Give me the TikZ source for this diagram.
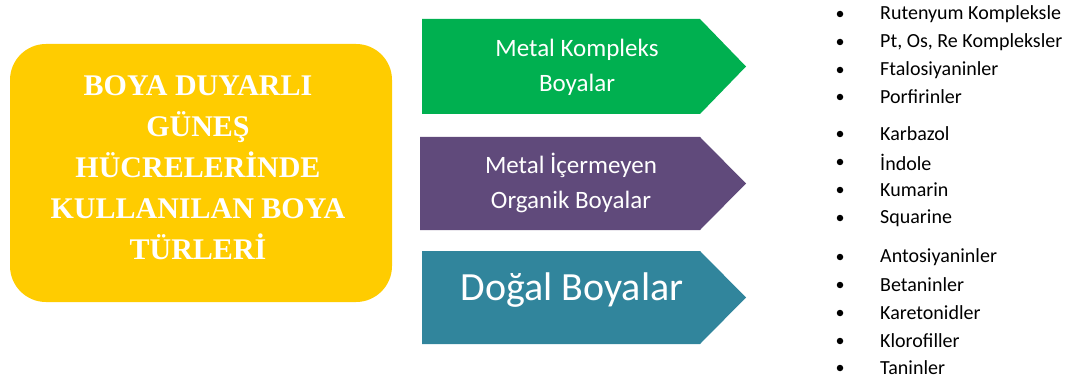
\documentclass[tikz,border=0pt]{standalone}
\usepackage{fontspec}
\setmainfont{Carlito}
\newfontfamily\titlefont{Liberation Serif}
\definecolor{boxyellow}{HTML}{FFCC00}
\definecolor{metalgreen}{HTML}{00B050}
\definecolor{organicpurple}{HTML}{604A7B}
\definecolor{naturalteal}{HTML}{31859C}
\begin{document}
\begin{tikzpicture}[x=1pt,y=-1pt,
    titlebox/.style={fill=boxyellow, rounded corners=36pt, minimum width=382pt, minimum height=258pt, inner sep=0pt},
    titletext/.style={text=white, align=center, inner sep=0pt, font=\titlefont\bfseries\fontsize{30}{41}\selectfont},
    arrowtext/.style={text=white, align=center, inner sep=0pt, font=\fontsize{25}{35}\selectfont},
    dot/.style={circle, fill=black, inner sep=0pt, minimum size=6.5pt},
    item/.style={anchor=west, inner sep=0pt, font=\fontsize{20}{22}\selectfont}]

  \useasboundingbox (0,0) rectangle (1075,382);

  % main box
  \node[titlebox] (title) at (201,173) {};
  \node[titletext] (titlelabel) at ([shift={(-3,-5)}]title.center)
    {BOYA DUYARLI\\GÜNEŞ\\HÜCRELERİNDE\\KULLANILAN BOYA\\TÜRLERİ};

  % arrows
  \fill[metalgreen] (422,19) -- (700,19) -- (746,66.5) -- (700,114) -- (422,114) -- cycle;
  \fill[organicpurple] (420,137) -- (700,137) -- (746,183.5) -- (700,230) -- (420,230) -- cycle;
  \fill[naturalteal] (422,251) -- (700,251) -- (746,297.5) -- (700,344) -- (422,344) -- cycle;

  \node[arrowtext] (metal) at (577,67) {Metal Kompleks\\Boyalar};
  \node[arrowtext] (organic) at (571,183) {Metal İçermeyen\\Organik Boyalar};
  \node[arrowtext, font=\fontsize{40}{44}\selectfont] (natural) at (572,290) {Doğal Boyalar};

  % lists
  \foreach \name/\y/\txt in {rut/14/Rutenyum Kompleksle, pt/42/{Pt, Os, Re Kompleksler},
      fta/70/Ftalosiyaninler, por/97/Porfirinler,
      kar/134/Karbazol, ind/162/İndole, kum/190/Kumarin, squ/218/Squarine,
      ant/257/Antosiyaninler, bet/285/Betaninler, ket/313/Karetonidler,
      klo/341/Klorofiller, tan/368/Taninler}{
    \node[dot] (d\name) at (840,\y) {};
    \node[item] (\name) at (880,\y) {\txt};
  }

\end{tikzpicture}
\end{document}
